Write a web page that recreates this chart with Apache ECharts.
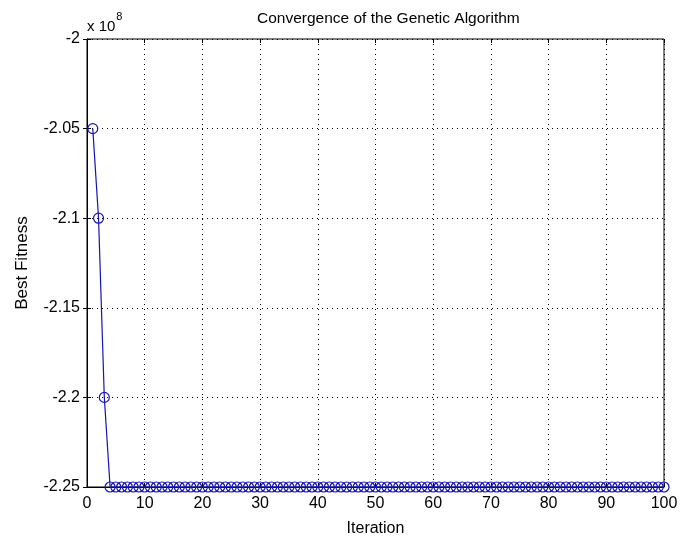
<!DOCTYPE html>
<html>
<head>
<meta charset="utf-8">
<script src="https://cdn.jsdelivr.net/npm/echarts@6/dist/echarts.min.js"></script>
<style>
  html, body { margin: 0; padding: 0; background: #fff; }
  #chart { width: 692px; height: 542px; }
</style>
</head>
<body>
<div id="chart"></div>
<script>
// best fitness per iteration, in units of 1e8
const iterations = [];
for (let i = 1; i <= 100; i++) iterations.push(i);
const bestFitness = [
  -2.05, -2.1, -2.2, -2.25, -2.25, -2.25, -2.25, -2.25, -2.25, -2.25,
  -2.25, -2.25, -2.25, -2.25, -2.25, -2.25, -2.25, -2.25, -2.25, -2.25,
  -2.25, -2.25, -2.25, -2.25, -2.25, -2.25, -2.25, -2.25, -2.25, -2.25,
  -2.25, -2.25, -2.25, -2.25, -2.25, -2.25, -2.25, -2.25, -2.25, -2.25,
  -2.25, -2.25, -2.25, -2.25, -2.25, -2.25, -2.25, -2.25, -2.25, -2.25,
  -2.25, -2.25, -2.25, -2.25, -2.25, -2.25, -2.25, -2.25, -2.25, -2.25,
  -2.25, -2.25, -2.25, -2.25, -2.25, -2.25, -2.25, -2.25, -2.25, -2.25,
  -2.25, -2.25, -2.25, -2.25, -2.25, -2.25, -2.25, -2.25, -2.25, -2.25,
  -2.25, -2.25, -2.25, -2.25, -2.25, -2.25, -2.25, -2.25, -2.25, -2.25,
  -2.25, -2.25, -2.25, -2.25, -2.25, -2.25, -2.25, -2.25, -2.25, -2.25
];

const font = "'Liberation Sans', Arial, sans-serif";
const lineColor = "#1414b8";

const chart = echarts.init(document.getElementById("chart"));

const tickStyle = { show: true, inside: true, length: 4, lineStyle: { color: "#000" } };
const gridLine = { show: true, lineStyle: { color: "#000", type: [1, 4], width: 1 } };

// unlabeled copies of the axes on top / right, for the matlab box ticks
const boxAxis = (extra) => Object.assign({
  type: "value",
  axisLine: { show: false },
  axisTick: tickStyle,
  axisLabel: { show: false },
  splitLine: { show: false },
}, extra);

chart.setOption({
  backgroundColor: "#fff",
  animation: false,
  title: {
    text: "Convergence of the Genetic Algorithm",
    left: 252,
    top: 6,
    textStyle: { fontFamily: font, fontSize: 15.5, fontWeight: "normal", color: "#000" },
  },
  grid: {
    left: 87, right: 28, top: 39, bottom: 50,
    show: true, borderColor: "#000", borderWidth: 1,
  },
  xAxis: [
    {
      type: "value",
      min: 0, max: 100, interval: 10,
      name: "Iteration",
      nameLocation: "middle",
      nameGap: 34,
      nameTextStyle: { fontFamily: font, fontSize: 16, color: "#000" },
      axisLine: { show: true, onZero: false, lineStyle: { color: "#000" } },
      axisTick: tickStyle,
      axisLabel: { fontFamily: font, fontSize: 16, color: "#000", margin: 9 },
      splitLine: gridLine,
    },
    boxAxis({ position: "top", min: 0, max: 100, interval: 10 }),
  ],
  yAxis: [
    {
      type: "value",
      min: -2.25, max: -2, interval: 0.05,
      name: "Best Fitness",
      nameLocation: "middle",
      nameGap: 56,
      nameTextStyle: { fontFamily: font, fontSize: 17, color: "#000" },
      axisLine: { show: true, onZero: false, lineStyle: { color: "#000" } },
      axisTick: tickStyle,
      axisLabel: {
        fontFamily: font, fontSize: 16, color: "#000", margin: 7,
        formatter: (v) => String(parseFloat(v.toFixed(2))),
      },
      splitLine: gridLine,
    },
    boxAxis({ position: "right", min: -2.25, max: -2, interval: 0.05 }),
  ],
  graphic: [
    {
      type: "text",
      left: 87, top: 11,
      style: {
        text: "{b|x 10}{s|8}",
        rich: {
          b: { fontFamily: font, fontSize: 15, fill: "#000", verticalAlign: "bottom", lineHeight: 23 },
          s: { fontFamily: font, fontSize: 11, fill: "#000", verticalAlign: "top", padding: [0, 0, 11, 1] },
        },
      },
    },
  ],
  series: [
    {
      type: "line",
      xAxisIndex: 0,
      yAxisIndex: 0,
      data: iterations.map((x, i) => [x, bestFitness[i]]),
      symbol: "circle",
      symbolSize: 10,
      showAllSymbol: true,
      clip: false,
      lineStyle: { color: lineColor, width: 1.2 },
      itemStyle: { color: "rgba(0,0,0,0)", borderColor: lineColor, borderWidth: 1.2 },
    },
  ],
});
</script>
</body>
</html>
